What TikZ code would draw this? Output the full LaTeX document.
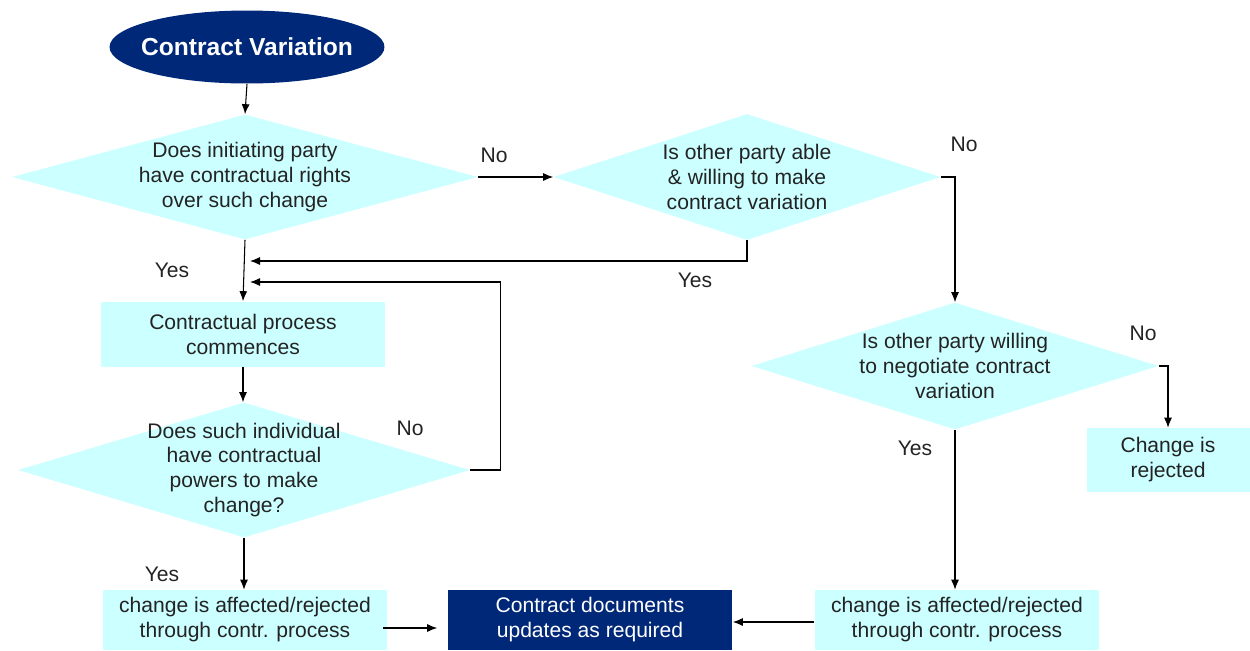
\documentclass[tikz,border=0pt]{standalone}
\usepackage{fontspec}
\setmainfont{Liberation Sans}
\usetikzlibrary{shapes.geometric, arrows.meta}
\definecolor{paleCyan}{RGB}{204,255,255}
\definecolor{deepNavy}{RGB}{0,40,120}
\definecolor{inkGray}{RGB}{35,35,35}

\begin{document}
\begin{tikzpicture}[
    x=0.02cm, y=-0.02cm,
    every node/.style={
        text centered, align=center, text=inkGray,
        font=\fontsize{12}{14.2}\selectfont
        },
    startOval/.style={ellipse, fill=deepNavy, text=white,
        inner xsep=-0.5cm, inner ysep=0pt,
        minimum width=5.5cm, minimum height=1.46cm,
        font=\fontsize{14}{16}\selectfont\bfseries},
    decision/.style={diamond, fill=paleCyan, inner sep=-0.9cm},
    procBox/.style={rectangle, fill=paleCyan, inner sep=0pt,
        minimum width=5.7cm, minimum height=1.2cm},
    flowArrow/.style={->, >={Latex[length=0.2cm, width=0.16cm]}, line width=0.6pt}
        ]
    \useasboundingbox (0,0) rectangle (1250,650);

    \node[startOval] (start) at (247,47) {Contract Variation};

    \node[decision, minimum width=9.32cm, minimum height=2.5cm] (rights) at (245,177) {Does initiating party\\have contractual rights\\over such change};
    \node[decision, minimum width=7.74cm, minimum height=2.52cm] (ableWilling) at (747,177) {Is other party able\\\& willing to make\\contract variation};
    \node[decision, minimum width=8.14cm, minimum height=2.54cm] (negotiate) at (955,366) {Is other party willing\\to negotiate contract\\variation};
    \node[decision, minimum width=9.04cm, minimum height=2.7cm] (powers) at (244,470) {Does such individual\\have contractual\\powers to make\\change?};

    \node[procBox, minimum height=1.3cm] (commence) at (243,334) {Contractual process\\commences};
    \node[procBox] (affectLeft) at (245,620) {change is affected/rejected\\through contr. process};
    \node[procBox, fill=deepNavy, text=white] (docs) at (590,620) {Contract documents\\updates as required};
    \node[procBox] (affectRight) at (957,620) {change is affected/rejected\\through contr. process};
    \node[procBox, minimum width=3.26cm, minimum height=1.28cm] (rejected) at (1168,460) {Change is\\rejected};

    \coordinate (yesJoin) at (250,261);
    \coordinate (noJoin) at (250,282);

    \draw[flowArrow] (start.south) -- (rights.north);
    \draw[flowArrow] (rights.east) -- (ableWilling.west);
    \draw[flowArrow] (rights.south) -- (commence.north);
    \draw[flowArrow] (ableWilling.south) |- (yesJoin);
    \draw[flowArrow] (ableWilling.east) -| (negotiate.north);
    \draw[flowArrow] (commence.south) -- (commence.south |- powers.north);
    \draw[flowArrow] (powers.east) -- ++(30,0) |- (noJoin);
    \draw[flowArrow] (powers.south) -- (powers.south |- affectLeft.north);
    \draw[flowArrow] ([xshift=-0.1cm, yshift=-0.16cm]affectLeft.east) -- ([xshift=-0.2cm, yshift=-0.16cm]docs.west);
    \draw[flowArrow] ([yshift=-0.04cm]affectRight.west) -- ([yshift=-0.04cm]docs.east);
    \draw[flowArrow] (negotiate.south) -- (negotiate.south |- affectRight.north);
    \draw[flowArrow] (negotiate.east) -| (rejected.north);

    \node (noRights) at (494,155) {No};
    \node (yesRights) at (172,270) {Yes};
    \node (noAble) at (964,144) {No};
    \node (yesAble) at (695,280) {Yes};
    \node (noPowers) at (410,428) {No};
    \node (yesPowers) at (162,574) {Yes};
    \node (yesNegotiate) at (915,448) {Yes};
    \node (noNegotiate) at (1143,333) {No};
\end{tikzpicture}
\end{document}
